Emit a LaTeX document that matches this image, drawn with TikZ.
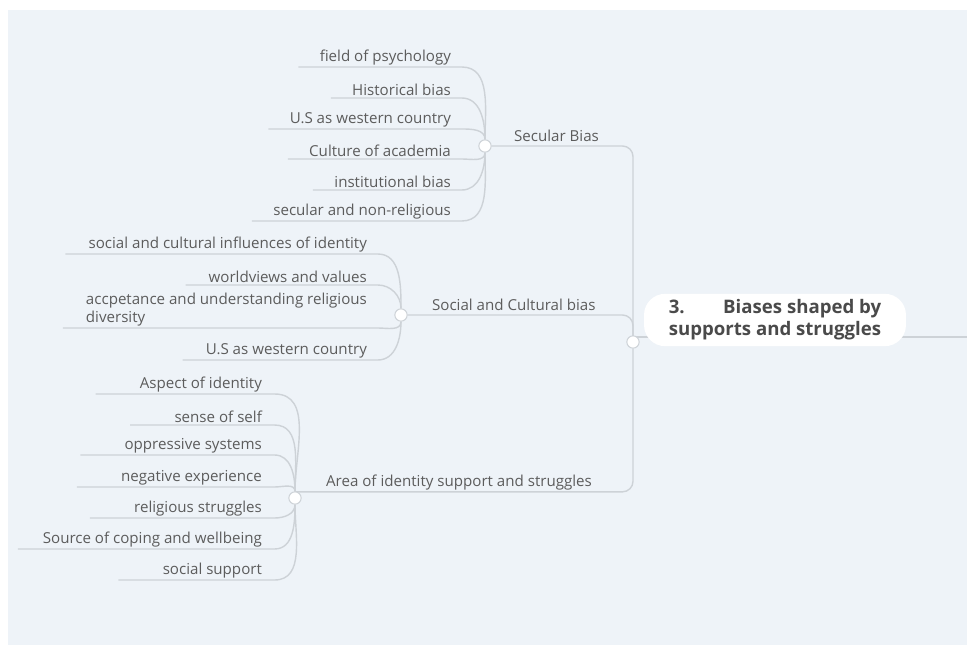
\documentclass[tikz,border=0pt]{standalone}
\usepackage{fontspec}
\setmainfont{Open Sans}
\usetikzlibrary{positioning,backgrounds}
\definecolor{paper}{HTML}{EEF3F8}
\definecolor{ink}{HTML}{5C5C5C}
\definecolor{wire}{HTML}{CDD2D7}

\begin{document}
\begin{tikzpicture}[x=0.02cm,y=-0.02cm]
		\tikzstyle{leaf}=[anchor=south east,inner sep=1pt,text=ink,font=\fontsize{8.6}{10}\selectfont]
		\tikzstyle{topic}=[anchor=south west,inner sep=1pt,text=ink,font=\fontsize{8.6}{10}\selectfont]
		\tikzstyle{link}=[draw=wire,line width=0.8pt]
		\tikzstyle{knot}=[circle,fill=white,draw=wire,line width=0.6pt,inner sep=0pt,minimum size=7pt]
		\tikzstyle{rootbox}=[fill=white,rounded corners=12pt,minimum width=5.24cm,minimum height=0.92cm,
			align=left,text=ink!80!black,font=\bfseries\fontsize{10.6}{12.5}\selectfont]
		\useasboundingbox (0,0) rectangle (967,645);
		\begin{scope}[on background layer]
			\fill[paper] (8,10) rectangle (967,645);
		\end{scope}
		% hubs
		\node[knot] (rootdot) at (633,342) {};
		\node[knot] (secdot) at (485,146) {};
		\node[knot] (socdot) at (401,315) {};
		\node[knot] (areadot) at (295,498) {};
		\coordinate (rim) at (967,337);
		% topics
		\node[topic] (secular) at (512,144) {Secular Bias};
		\node[topic] (social) at (430,313) {Social and Cultural bias};
		\node[topic] (area) at (324,492) {Area of identity support and struggles};
		% secular bias
		\node[leaf] (psy) at (453,67) {field of psychology};
		\node[leaf] (hist) at (453,98) {Historical bias};
		\node[leaf] (west) at (453,129) {U.S as western country};
		\node[leaf] (acad) at (453,159) {Culture of academia};
		\node[leaf] (inst) at (453,190) {institutional bias};
		\node[leaf] (nonrel) at (453,221) {secular and non-religious};
		% social and cultural bias
		\node[leaf] (infl) at (369,254) {social and cultural influences of identity};
		\node[leaf] (views) at (369,285) {worldviews and values};
		\node[leaf,align=left] (accept) at (369,328) {accpetance and understanding religious\\diversity};
		\node[leaf] (usa) at (369,360) {U.S as western country};
		% area of identity
		\node[leaf] (aspect) at (264,394) {Aspect of identity};
		\node[leaf] (self) at (264,425) {sense of self};
		\node[leaf] (oppr) at (264,455) {oppressive systems};
		\node[leaf] (neg) at (264,487) {negative experience};
		\node[leaf] (strug) at (264,518) {religious struggles};
		\node[leaf] (coping) at (264,549) {Source of coping and wellbeing};
		\node[leaf] (supp) at (264,580) {social support};
		% links
		\begin{scope}[on background layer]
		\foreach \kid/\dir in {psy/90,hist/90,west/90,acad/-90,inst/-90,nonrel/-90}
			\draw[link] ([xshift=-11pt]\kid.south west) -- ([xshift=5pt]\kid.south east) to[out=0,in=\dir] (secdot);
		\foreach \kid/\dir in {infl/90,views/90,accept/-90,usa/-90}
			\draw[link] ([xshift=-12pt]\kid.south west) -- ([xshift=5pt]\kid.south east) to[out=0,in=\dir] (socdot);
		\foreach \kid/\dir in {aspect/90,self/90,oppr/90,neg/90,strug/-90,supp/-90}
			\draw[link] ([xshift=-24pt]\kid.south west) -- ([xshift=6pt]\kid.south east) to[out=0,in=\dir] (areadot);
		\draw[link] ([xshift=-13pt]coping.south west) -- ([xshift=6pt]coping.south east) to[out=0,in=-90] (areadot);
		\draw[link,rounded corners=6pt] (secdot) -| (rootdot);
		\draw[link,rounded corners=6pt] (socdot) -| (rootdot);
		\draw[link,rounded corners=6pt] ([yshift=3.5pt]areadot.center) -| (rootdot);
		\draw[link] (rootdot) |- (rim);
		\end{scope}
		\node[rootbox] (root) at (775,320) {\setbox0\hbox{supports and struggles}\hbox to \wd0{3.\hfill Biases shaped by}\\supports and struggles};
\end{tikzpicture}
\end{document}
